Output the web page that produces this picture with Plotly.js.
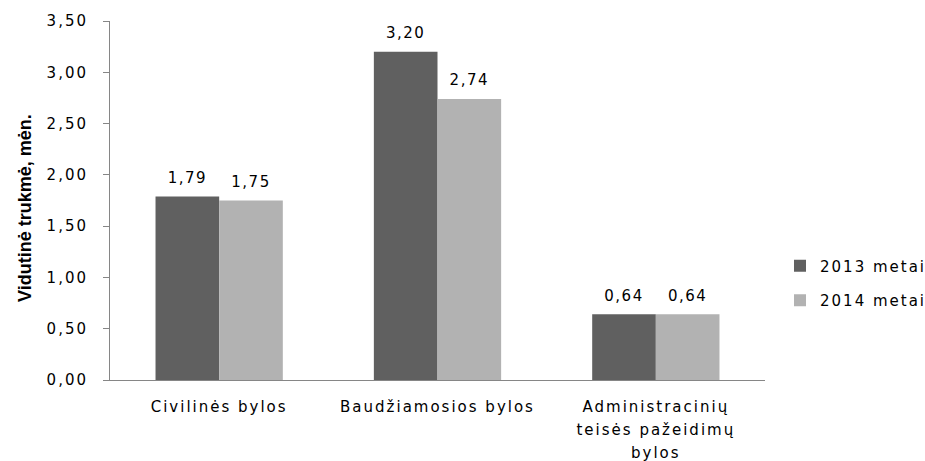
<!DOCTYPE html>
<html>
<head>
<meta charset="utf-8">
<script src="https://cdn.plot.ly/plotly-3.0.1.min.js"></script>
<style>
html,body{margin:0;padding:0;background:#fff;}
#chart{width:925px;height:461px;}
#chart .xtick text{letter-spacing:2px;}
#chart .ytick text{letter-spacing:2px;}
#chart .bartext{letter-spacing:1.5px;}
</style>
</head>
<body>
<div id="chart"></div>
<script>
const categories = ["Civilinės bylos", "Baudžiamosios bylos", "Administracinių teisės pažeidimų bylos"];
const tickLabels = ["Civilinės bylos", "Baudžiamosios bylos", "Administracinių<br>teisės pažeidimų<br>bylos"];
const seriesNames = ["2013 metai", "2014 metai"];
const values2013 = [1.79, 3.20, 0.64];
const values2014 = [1.75, 2.74, 0.64];
const yTickVals = [0, 0.5, 1, 1.5, 2, 2.5, 3, 3.5];
const yTitle = "Vidutinė trukmė, mėn.";

const fam = "DejaVu Sans, Verdana, sans-serif";
const font = {family: fam, size: 15, color: "#000"};
const labelTemplate = '<span style="font-size:15px">%{y:.2f}</span><br> ';
const legendName = n => '<span style="letter-spacing:2px">' + n + '</span>';
const traces = [
  {type: "bar", name: legendName(seriesNames[0]), legendgroup: "a", x: categories, y: values2013, marker: {color: "#606060"},
   texttemplate: labelTemplate, textposition: "outside", textfont: {family: fam, size: 6.5, color: "#000"},
   cliponaxis: false, hoverinfo: "none", constraintext: "none"},
  {type: "bar", name: legendName(seriesNames[1]), legendgroup: "b", x: categories, y: values2014, marker: {color: "#b2b2b2"},
   texttemplate: labelTemplate, textposition: "outside", textfont: {family: fam, size: 6.5, color: "#000"},
   cliponaxis: false, hoverinfo: "none", constraintext: "none"}
];
const layout = {
  width: 925, height: 461,
  margin: {l: 110, r: 160, t: 21, b: 81, autoexpand: false},
  separators: ",.",
  font: font,
  paper_bgcolor: "#fff", plot_bgcolor: "#fff",
  bargap: 0.417, bargroupgap: 0,
  showlegend: true,
  legend: {x: 1.0229, y: 0.27, xanchor: "left", yanchor: "middle", font: font, tracegroupgap: 12, itemwidth: 30},
  xaxis: {showline: true, linecolor: "#868686", linewidth: 1, ticks: "", showgrid: false, zeroline: false,
          tickmode: "array", tickvals: categories,
          ticktext: tickLabels.map(t => '<span style="font-size:15px">' + t + '</span>'),
          tickfont: {family: fam, size: 17.6, color: "#000"}, ticklabelstandoff: 10},
  yaxis: {range: [0, 3.5], tickvals: yTickVals, tickformat: ".2f", showline: true, linecolor: "#868686", linewidth: 1,
          ticks: "outside", ticklen: 6, tickcolor: "#868686", showgrid: false, zeroline: false, tickfont: font,
          ticklabelstandoff: 12},
  annotations: [{text: yTitle, xref: "paper", yref: "paper", x: -0.13, y: 0.479, textangle: -90, showarrow: false,
                 xanchor: "center", yanchor: "middle",
                 font: {family: "Liberation Sans Narrow, Arial Narrow, sans-serif", size: 18, color: "#000", weight: "bold"}}]
};
Plotly.newPlot("chart", traces, layout, {displayModeBar: false, staticPlot: true});
</script>
</body>
</html>
